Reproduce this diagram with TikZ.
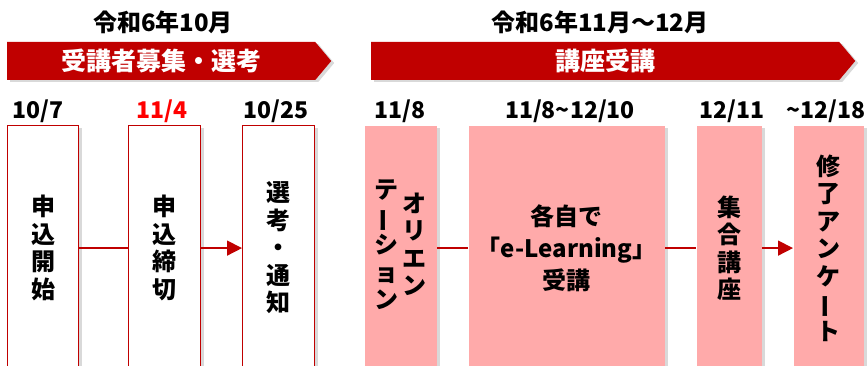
\documentclass[tikz,border=0pt]{standalone}
\usepackage{fontspec}
\setmainfont{Noto Sans CJK JP}
\usetikzlibrary{positioning, arrows.meta, shapes.symbols, shadows}
\definecolor{bannerred}{RGB}{192,0,0}
\definecolor{coursepink}{RGB}{255,170,170}
\tikzset{softshadow/.style={drop shadow={opacity=0.3, shadow xshift=3pt, shadow yshift=-2pt}}}
\tikzset{banner/.style={signal, signal to=east, signal pointer angle=100, fill=bannerred, text=white, inner sep=0pt, minimum height=38pt, anchor=west, font=\bfseries\fontsize{25}{28}\selectfont, softshadow}}
\tikzset{period/.style={font=\bfseries\fontsize{24}{28}\selectfont}}
\tikzset{datelabel/.style={font=\bfseries\fontsize{23}{28}\selectfont}}
\tikzset{stage/.style={draw=bannerred, line width=1.2pt, fill=white, anchor=north west, align=center, inner sep=0pt, minimum height=245pt, font=\bfseries\fontsize{24}{27.5}\selectfont, softshadow}}
\tikzset{course/.style={stage, draw=none, fill=coursepink}}
\tikzset{link/.style={draw=bannerred, line width=1.5pt}}
\tikzset{linkarrow/.style={link, -{Triangle[length=15pt, width=15pt]}}}
\newcommand{\tatebar}{\rotatebox[origin=c]{90}{ー}}

\begin{document}
\begin{tikzpicture}[x=1pt, y=-1pt]
  \useasboundingbox (0,0) rectangle (868,366);

  \node[period] (oct) at (163,22) {令和6年10月};
  \node[period] (novdec) at (600,22) {令和6年11月～12月};

  \node[banner, minimum width=324pt] (recruit) at (7,61) {受講者募集・選考};
  \node[banner, minimum width=484pt] (lecture) at (371,61) {講座受講};

  \node[datelabel] (d1) at (38,111) {10/7};
  \node[datelabel, text=red] (d2) at (162,111) {11/4};
  \node[datelabel] (d3) at (276,111) {10/25};
  \node[datelabel] (d4) at (400,111) {11/8};
  \node[datelabel] (d5) at (570,111) {11/8\textasciitilde12/10};
  \node[datelabel] (d6) at (732,111) {12/11};
  \node[datelabel] (d7) at (826,111) {\textasciitilde12/18};

  \node[stage, minimum width=71pt] (apply) at (7,125) {申\\込\\開\\始};
  \node[stage, minimum width=72pt] (close) at (128,125) {申\\込\\締\\切};
  \node[stage, minimum width=72pt] (select) at (242,125) {選\\考\\・\\通\\知};
  \node[course, minimum width=72pt] (orient) at (364,125)
    {\begin{tabular}[c]{@{}c@{}}テ\\\tatebar\\シ\\ョ\\ン\end{tabular}\hspace{4pt}%
     \begin{tabular}[c]{@{}c@{}}オ\\リ\\エ\\ン\end{tabular}};
  \node[course, minimum width=196pt, font=\bfseries\fontsize{24}{32}\selectfont] (elearn) at (468,125)
    {各自で\\「e-Learning」\\受講};
  \node[course, minimum width=65pt] (group) at (696,125) {集\\合\\講\\座};
  \node[course, minimum width=70pt] (survey) at (793,125) {修\\了\\ア\\ン\\ケ\\\tatebar\\ト};

  \draw[link] (apply) -- (close);
  \draw[linkarrow] (close) -- (select);
  \draw[link] (orient) -- (elearn);
  \draw[link] (elearn) -- (group);
  \draw[linkarrow] (group) -- (survey);
\end{tikzpicture}
\end{document}
